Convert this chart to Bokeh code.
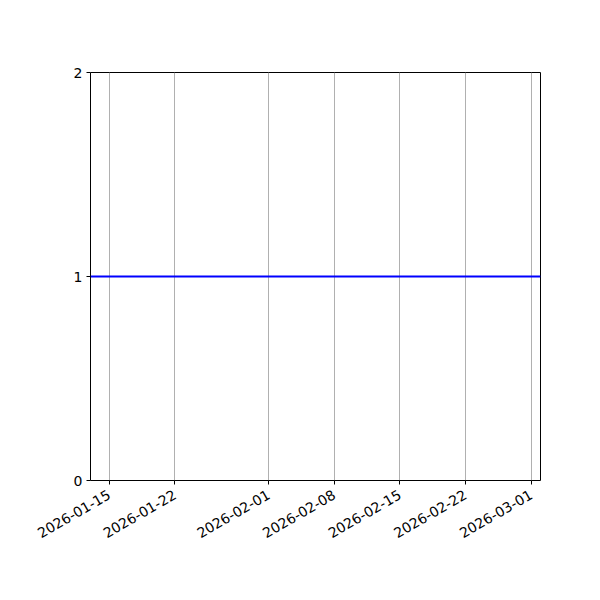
from datetime import datetime
import math
from bokeh.plotting import figure
from bokeh.models import Range1d, FixedTicker, DatetimeTickFormatter
from bokeh.embed import file_html
from bokeh.resources import INLINE

# Data
dates = ["2026-01-13", "2026-03-02"]
values = [1, 1]
x_ticks = ["2026-01-15", "2026-01-22", "2026-02-01", "2026-02-08",
           "2026-02-15", "2026-02-22", "2026-03-01"]
y_ticks = [0, 1, 2]

def to_dt(s):
    return datetime.strptime(s, "%Y-%m-%d")

def to_ms(s):
    return (to_dt(s) - datetime(1970, 1, 1)).total_seconds() * 1000.0

xs = [to_dt(d) for d in dates]

p = figure(width=584, height=584, x_axis_type="datetime",
           output_backend="svg", toolbar_location=None,
           x_range=Range1d(start=xs[0], end=xs[-1]),
           y_range=Range1d(start=0, end=2),
           min_border_left=90, min_border_right=44,
           min_border_top=72, min_border_bottom=104)

p.line(xs, values, line_color="#0000ff", line_width=2)

p.outline_line_color = "black"
p.outline_line_width = 1
p.background_fill_color = "white"
p.border_fill_color = "white"

p.xaxis.ticker = FixedTicker(ticks=[to_ms(t) for t in x_ticks])
p.xaxis.formatter = DatetimeTickFormatter(
    milliseconds="%Y-%m-%d", seconds="%Y-%m-%d", minsec="%Y-%m-%d",
    minutes="%Y-%m-%d", hourmin="%Y-%m-%d", hours="%Y-%m-%d",
    days="%Y-%m-%d", months="%Y-%m-%d", years="%Y-%m-%d")
p.xaxis.major_label_orientation = math.pi / 6
p.yaxis.ticker = FixedTicker(ticks=y_ticks)

for ax in (p.xaxis, p.yaxis):
    ax.major_label_text_font = "DejaVu Sans"
    ax.major_label_text_font_size = "14px"
    ax.major_label_text_color = "black"
    ax.axis_line_color = None
    ax.major_tick_line_color = "black"
    ax.major_tick_in = 0
    ax.major_tick_out = 4
    ax.minor_tick_line_color = None

p.xaxis.major_label_standoff = 9
p.yaxis.major_label_standoff = 4

p.xgrid.grid_line_color = "#b0b0b0"
p.xgrid.grid_line_width = 1
p.ygrid.grid_line_color = None

open("out.html", "w").write(file_html(p, INLINE))
